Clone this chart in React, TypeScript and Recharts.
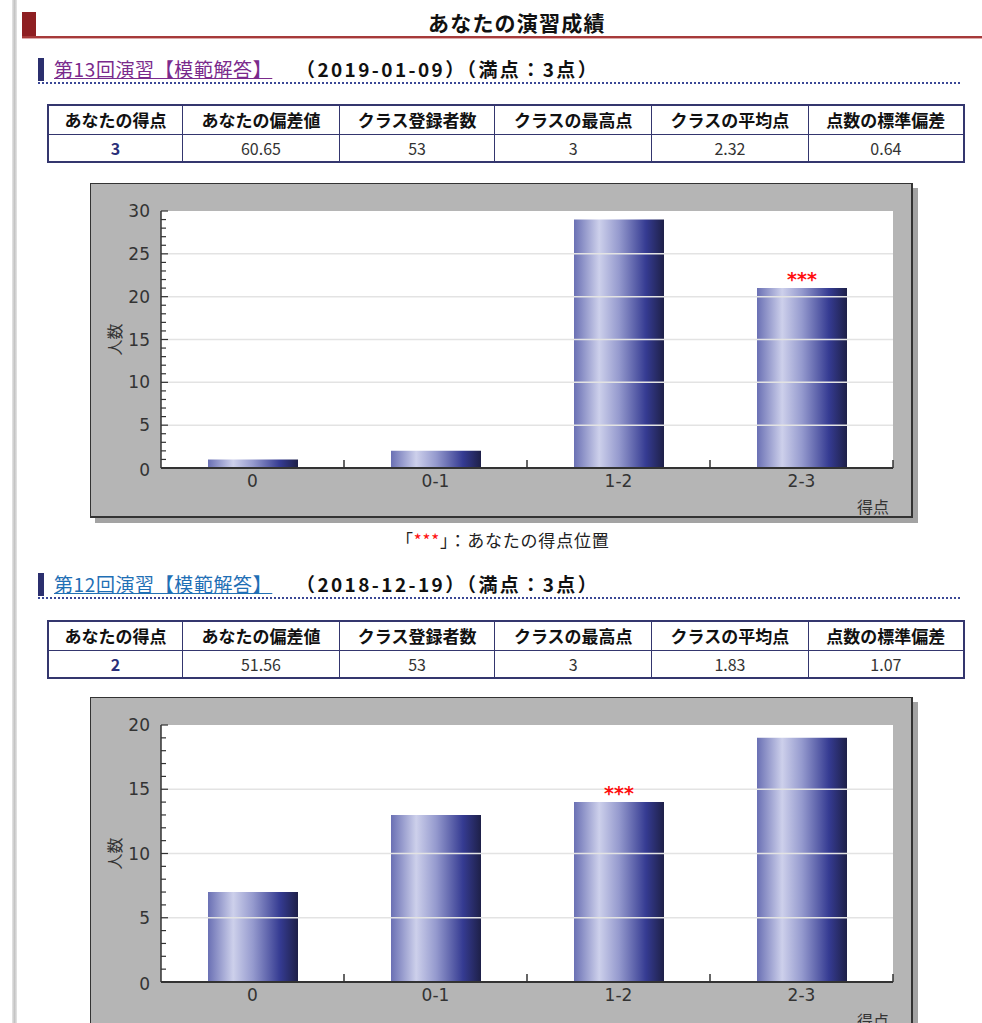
import React from 'react';
import { BarChart, Bar, XAxis, YAxis, CartesianGrid, ReferenceLine, LabelList, Label } from 'recharts';

const categories = ['0', '0-1', '1-2', '2-3'];
const counts13 = [1, 2, 29, 21];
const counts12 = [7, 13, 14, 19];
const mark13 = '2-3';
const mark12 = '1-2';
const yTicks13 = [0, 1, 2, 3, 4, 5, 6, 7, 8, 9, 10, 11, 12, 13, 14, 15, 16, 17, 18, 19, 20, 21, 22, 23, 24, 25, 26, 27, 28, 29, 30];
const yTicks12 = [0, 1, 2, 3, 4, 5, 6, 7, 8, 9, 10, 11, 12, 13, 14, 15, 16, 17, 18, 19, 20];
const grid13 = [5, 10, 15, 20, 25];
const grid12 = [5, 10, 15];
const tableHeaders = ['あなたの得点', 'あなたの偏差値', 'クラス登録者数', 'クラスの最高点', 'クラスの平均点', '点数の標準偏差'];
const row13 = ['3', '60.65', '53', '3', '2.32', '0.64'];
const row12 = ['2', '51.56', '53', '3', '1.83', '1.07'];
const colPercents = ['14.7%', '17.1%', '17%', '17.1%', '17.1%', '17%'];

const W = 823;
const H = 335;
const YW = 71;
const XH = 50;
const M = { top: 28, right: 20, bottom: 0, left: 0 };
const plotW = W - M.left - M.right - YW;
const plotH = H - M.top - M.bottom - XH;
const plotBottom = M.top + plotH;
const band = plotW / categories.length;
const chartFont = '"DejaVu Sans", Verdana, sans-serif';

function YTick(props: any) {
  const { y, payload } = props;
  const v = payload.value as number;
  const major = v % 5 === 0;
  return (
    <g>
      {v !== 0 && (
        <line x1={YW} x2={YW + (major ? 7 : 5)} y1={y} y2={y} stroke="#333" strokeWidth={1.2} />
      )}
      {major && (
        <text x={YW - 11} y={y + (v === 0 ? 2 : 0)} dy="0.36em" textAnchor="end" fontSize={17} fill="#333" fontFamily={chartFont}>
          {v}
        </text>
      )}
    </g>
  );
}

function XTick(props: any) {
  const { x, payload } = props;
  return (
    <g>
      <text x={x} y={plotBottom + 13} dy="0.36em" textAnchor="middle" fontSize={17} fill="#333" fontFamily={chartFont}>
        {payload.value}
      </text>
      <line x1={x + band / 2} x2={x + band / 2} y1={plotBottom} y2={plotBottom - 8} stroke="#333" strokeWidth={1.5} />
    </g>
  );
}

function MarkLabel(props: any) {
  const { x, y, width, value } = props;
  if (!value) return null;
  return (
    <text x={x + width / 2} y={y - 9} dy="0.36em" textAnchor="middle" fontSize={19} fontWeight={700} fill="#ff1010" fontFamily={chartFont}>
      {value}
    </text>
  );
}

function ScoreChart({ id, counts, mark, yMax, yTicks, gridValues, top }: any) {
  const data = categories.map((c, i) => ({ cat: c, count: counts[i], mark: c === mark ? '***' : '' }));
  return (
    <div style={{ position: 'absolute', left: 90, top, width: W, height: H }}>
      <div
        style={{
          position: 'absolute',
          left: 0,
          top: 0,
          width: W,
          height: H,
          boxSizing: 'border-box',
          background: '#b5b5b5',
          border: '1px solid #333',
          borderRightWidth: 2,
          borderBottomWidth: 2,
          boxShadow: '5px 5px 0 #a3a3a3',
        }}
      />
      <div style={{ position: 'absolute', left: 0, top: 0 }}>
        <BarChart width={W} height={H} data={data} margin={M}>
          <defs>
            <linearGradient id={id} x1="0" y1="0" x2="1" y2="0">
              <stop offset="0%" stopColor="#6a70b4" />
              <stop offset="28%" stopColor="#cdd0eb" />
              <stop offset="50%" stopColor="#959ace" />
              <stop offset="80%" stopColor="#353b92" />
              <stop offset="100%" stopColor="#1e2048" />
            </linearGradient>
          </defs>
          <CartesianGrid horizontal={false} vertical={false} fill="#ffffff" fillOpacity={1} />
          {gridValues.map((v: number) => (
            <ReferenceLine key={v} y={v} stroke="#e3e3e3" strokeWidth={1.5} />
          ))}
          <XAxis
            dataKey="cat"
            height={XH}
            interval={0}
            axisLine={{ stroke: '#333', strokeWidth: 2 }}
            tickLine={false}
            tick={<XTick />}
          >
            <Label
              content={() => (
                <text x={M.left + YW + plotW - 20} y={plotBottom + 39} dy="0.36em" textAnchor="middle" fontSize={16} fill="#333" fontFamily='"Noto Sans CJK JP", sans-serif'>
                  得点
                </text>
              )}
            />
          </XAxis>
          <YAxis
            width={YW}
            domain={[0, yMax]}
            ticks={yTicks}
            interval={0}
            axisLine={{ stroke: '#333', strokeWidth: 1.5 }}
            tickLine={false}
            tick={<YTick />}
          >
            <Label
              content={() => (
                <text
                  x={25}
                  y={M.top + plotH / 2}
                  dy="0.36em"
                  textAnchor="middle"
                  fontSize={16}
                  fill="#333"
                  fontFamily='"Noto Sans CJK JP", sans-serif'
                  transform={`rotate(-90 25 ${M.top + plotH / 2})`}
                >
                  人数
                </text>
              )}
            />
          </YAxis>
          <Bar dataKey="count" fill={`url(#${id})`} barSize={90} isAnimationActive={false}>
            <LabelList dataKey="mark" content={<MarkLabel />} />
          </Bar>
        </BarChart>
      </div>
    </div>
  );
}

function SectionTitle({ top, title, date, color }: any) {
  return (
    <>
      <div style={{ position: 'absolute', left: 38, top, width: 6, height: 23, background: '#2b2f6e' }} />
      <div
        style={{
          position: 'absolute',
          left: 54,
          top: top - 1,
          fontSize: 19,
          letterSpacing: 0.6,
          lineHeight: '24px',
          color,
          textDecoration: 'underline',
          whiteSpace: 'nowrap',
        }}
      >
        {title}
      </div>
      <div
        style={{
          position: 'absolute',
          left: 296,
          top: top - 1,
          fontSize: 19,
          letterSpacing: 2.4,
          lineHeight: '24px',
          fontWeight: 700,
          color: '#111',
          whiteSpace: 'nowrap',
        }}
      >
        {date}
      </div>
      <div style={{ position: 'absolute', left: 38, top: top + 24, width: 922, borderTop: '2px dotted #3b4896' }} />
    </>
  );
}

function ScoreTable({ top, row }: any) {
  const cell: React.CSSProperties = {
    border: '1px solid #34366e',
    textAlign: 'center',
    padding: 0,
    overflow: 'hidden',
    whiteSpace: 'nowrap',
  };
  return (
    <table
      style={{
        position: 'absolute',
        left: 47,
        top,
        width: 918,
        borderCollapse: 'collapse',
        border: '2px solid #34366e',
        tableLayout: 'fixed',
      }}
    >
      <colgroup>
        {colPercents.map((w, i) => (
          <col key={i} style={{ width: w }} />
        ))}
      </colgroup>
      <tbody>
        <tr style={{ height: 29 }}>
          {tableHeaders.map((h) => (
            <td key={h} style={{ ...cell, fontWeight: 700, fontSize: 17, color: '#111' }}>
              {h}
            </td>
          ))}
        </tr>
        <tr style={{ height: 28 }}>
          {row.map((v: string, i: number) => (
            <td
              key={i}
              style={{
                ...cell,
                fontSize: 16,
                fontWeight: i === 0 ? 700 : 400,
                color: i === 0 ? '#2b2f7a' : '#333',
              }}
            >
              {v}
            </td>
          ))}
        </tr>
      </tbody>
    </table>
  );
}

export default function App() {
  return (
    <div
      style={{
        position: 'absolute',
        left: 0,
        top: 0,
        width: 982,
        height: 1023,
        overflow: 'hidden',
        background: '#fff',
        fontFamily: '"Noto Sans CJK JP", sans-serif',
      }}
    >
      <div style={{ position: 'absolute', left: 12, top: 0, width: 5, height: 1023, background: 'linear-gradient(to right, #e6e6e6, #c4c4c4, #e6e6e6)' }} />
      <div style={{ position: 'absolute', left: 22, top: 12, width: 14, height: 25, background: '#8e1f22' }} />
      <div style={{ position: 'absolute', left: 22, top: 36, width: 960, height: 2, background: '#a63a3a' }} />
      <div style={{ position: 'absolute', left: 22, top: 38, width: 960, height: 1, background: '#dcaaaa' }} />
      <div style={{ position: 'absolute', left: 428, top: 8, fontSize: 21, letterSpacing: 1.2, fontWeight: 700, color: '#111', lineHeight: '28px', whiteSpace: 'nowrap' }}>
        あなたの演習成績
      </div>

      <SectionTitle top={58} title="第13回演習【模範解答】" date="（2019-01-09）（満点：3点）" color="#7a2a8c" />
      <ScoreTable top={104} row={row13} />
      <ScoreChart id="grad13" counts={counts13} mark={mark13} yMax={30} yTicks={yTicks13} gridValues={grid13} top={183} />
      <div style={{ position: 'absolute', left: 396, top: 528, fontSize: 17, letterSpacing: 0.8, color: '#222', whiteSpace: 'nowrap', lineHeight: '24px' }}>
        「<span style={{ color: '#ff1010' }}>***</span>」：あなたの得点位置
      </div>

      <SectionTitle top={573} title="第12回演習【模範解答】" date="（2018-12-19）（満点：3点）" color="#1f6fb5" />
      <ScoreTable top={620} row={row12} />
      <ScoreChart id="grad12" counts={counts12} mark={mark12} yMax={20} yTicks={yTicks12} gridValues={grid12} top={697} />
    </div>
  );
}
